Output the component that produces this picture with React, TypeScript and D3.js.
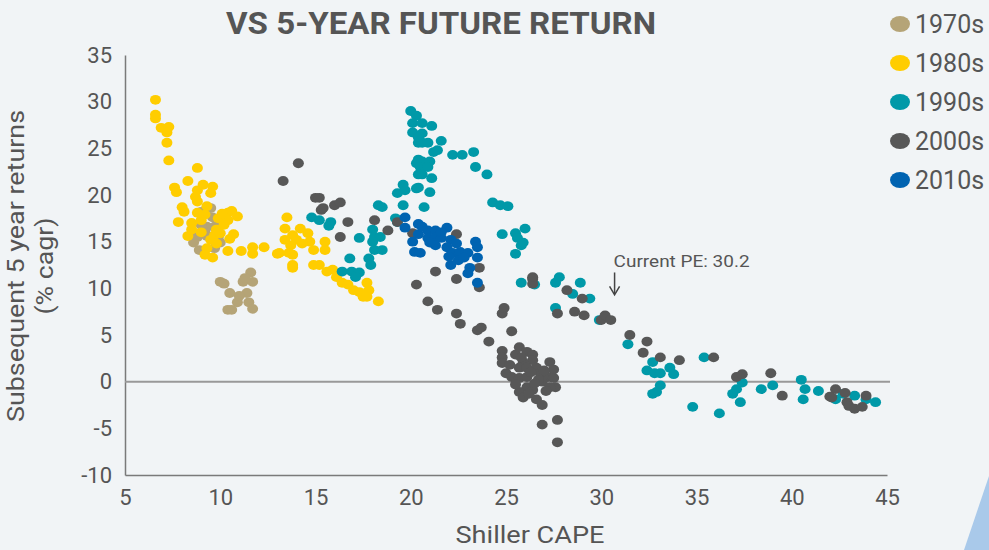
import * as d3 from 'd3';
import { useEffect, useRef } from 'react';

type Pt = [number, number];

// Shiller CAPE (x) vs subsequent 5 year return, % cagr (y)
const s1970: Pt[] = [
  [9.5, 18.6], [9.6, 17.6], [9.7, 16.6], [8.8, 15.5], [8.6, 14.9], [8.9, 14.1], [9.7, 14.3],
  [10.0, 14.9], [9.3, 16.6], [9.9, 16.6], [9.0, 18.2], [9.2, 16.0], [9.6, 15.2],
  [9.3, 15.6], [9.9, 15.5], [9.0, 16.8],
  [10.0, 10.7], [10.2, 10.5], [10.5, 9.5], [10.4, 7.7], [10.9, 8.5], [11.2, 10.7], [11.6, 11.7],
  [11.7, 10.7], [11.4, 9.5], [11.5, 8.5], [11.7, 7.8], [10.6, 7.7], [11.3, 11.1], [11.0, 9.2]
];

const s1980: Pt[] = [
  [6.6, 30.2], [6.6, 28.6], [6.6, 28.2], [6.9, 27.2], [7.3, 27.3], [7.2, 26.7], [7.2, 25.6],
  [7.3, 23.7], [8.8, 22.9], [8.3, 21.5], [7.6, 20.8], [7.7, 20.3], [9.1, 21.1], [9.6, 20.9],
  [9.5, 20.2], [8.8, 20.5], [8.7, 19.8], [8.8, 19.3], [9.3, 18.8], [8.0, 18.7], [8.1, 18.2],
  [8.8, 18.1], [9.2, 17.9], [7.8, 17.1], [8.5, 17.0], [9.9, 17.5], [10.4, 18.1], [10.6, 18.3],
  [10.9, 17.7], [10.4, 17.3], [8.3, 15.6], [9.0, 16.0], [9.7, 15.7], [10.0, 15.9], [9.5, 15.2],
  [10.7, 15.8], [10.5, 15.3], [9.8, 14.8], [9.3, 14.3], [9.2, 13.6], [9.6, 13.3], [10.4, 14.0],
  [11.1, 14.0], [11.7, 14.4], [11.7, 13.7], [12.3, 14.4], [13.0, 13.7],
  [9.8, 16.3], [10.2, 16.8], [8.5, 16.3], [9.0, 17.3], [10.1, 18.0],
  [13.5, 17.6], [13.4, 16.4], [14.2, 16.4], [13.8, 15.7], [14.6, 15.9], [13.4, 15.2], [14.0, 15.2],
  [14.7, 15.0], [15.5, 15.0], [13.7, 14.6], [14.3, 14.8], [14.9, 14.1], [15.5, 14.1], [13.1, 13.8],
  [13.6, 13.8], [13.8, 13.6], [13.8, 12.5], [13.8, 12.2], [14.9, 12.5], [15.2, 12.5], [15.6, 11.8],
  [15.9, 12.0], [16.1, 11.2], [16.4, 10.6], [16.7, 10.4], [17.0, 9.8], [17.3, 9.6], [17.7, 10.6],
  [17.8, 9.8], [17.5, 9.1], [17.7, 9.1], [18.3, 8.6]
];

const s1990: Pt[] = [
  [14.8, 17.6], [15.2, 17.3], [15.8, 17.1], [15.7, 16.7], [18.3, 18.9], [17.3, 15.4], [18.0, 16.3],
  [18.1, 15.5], [18.4, 15.5], [18.0, 15.0], [18.1, 14.1], [18.5, 14.1], [17.8, 13.2], [17.9, 12.5],
  [16.8, 13.2], [16.4, 11.8], [16.9, 11.8], [17.3, 11.7], [17.1, 11.2], [19.3, 17.1], [19.6, 21.1],
  [19.3, 20.2], [20.3, 20.7], [19.6, 18.9], [20.3, 23.4], [20.4, 22.2], [20.4, 25.6],
  [20.0, 29.0], [20.3, 28.5], [20.1, 27.7], [20.6, 27.7], [21.1, 27.4], [20.1, 26.7], [20.6, 26.6],
  [20.4, 26.2], [21.6, 25.8], [20.6, 25.6], [20.9, 25.6], [21.2, 24.6], [21.4, 24.8], [22.2, 24.3],
  [22.7, 24.3], [23.3, 24.6], [23.4, 23.0], [24.0, 22.2], [20.4, 23.8], [20.6, 23.6], [21.0, 23.6],
  [20.5, 23.0], [20.9, 23.0], [20.6, 22.2], [21.1, 21.8], [19.7, 20.5], [20.4, 20.8], [21.0, 20.3],
  [20.7, 18.7], [18.5, 18.7], [19.2, 17.5], [24.3, 19.2], [24.7, 18.9], [25.1, 18.8], [24.8, 15.8],
  [25.5, 15.9], [26.0, 16.4], [25.6, 15.4], [25.8, 14.6], [25.5, 13.7], [25.9, 14.9], [25.8, 10.6],
  [26.5, 10.4], [27.6, 10.6], [27.8, 11.2], [28.9, 10.6], [28.5, 9.4], [29.4, 8.9], [27.6, 7.9],
  [29.9, 6.6], [31.4, 4.0], [32.7, 2.1], [32.4, 1.2], [32.8, 0.9], [33.1, 0.9], [33.1, -0.4],
  [32.9, -1.1], [32.7, -1.3], [33.6, 1.5], [33.8, 0.8], [34.8, -2.7], [35.4, 2.6], [36.2, -3.4],
  [36.9, -1.3], [37.1, -0.8], [37.4, -0.1], [37.3, -2.2], [38.4, -0.8], [39.0, -0.4], [40.5, 0.2],
  [40.7, -0.8], [40.6, -1.9], [41.4, -1.0], [42.3, -1.9], [42.7, -1.3], [43.3, -1.5], [43.9, -1.9],
  [44.4, -2.2]
];

const s2000: Pt[] = [
  [14.1, 23.4], [13.3, 21.5], [15.0, 19.7], [15.2, 19.7], [15.3, 18.4], [15.4, 18.6], [16.0, 18.9],
  [16.3, 19.2], [16.7, 17.1], [16.3, 15.5], [18.1, 17.3], [18.8, 16.2], [19.3, 17.1], [20.3, 10.4],
  [20.1, 15.9], [22.4, 15.8], [21.3, 11.8], [23.6, 12.2], [20.9, 8.6], [21.4, 7.7], [22.4, 7.3],
  [26.4, 11.0], [22.4, 11.0], [23.6, 10.1], [22.6, 6.2], [23.5, 5.5], [23.7, 5.8], [24.1, 4.3],
  [24.8, 7.3], [24.9, 7.9], [25.3, 5.4], [24.8, 3.3], [24.8, 2.6], [24.8, 2.0], [25.5, 2.9],
  [25.7, 3.7], [26.1, 3.2], [26.4, 2.9], [26.4, 2.3], [25.9, 2.1], [25.7, 1.5], [26.1, 1.5],
  [26.6, 1.5], [27.3, 2.1], [27.5, 1.3], [25.0, 0.9], [25.3, 0.5], [25.7, 0.4], [26.1, 0.5],
  [26.8, 0.9], [27.2, 0.5], [27.5, 0.4], [26.9, 0.0], [27.6, -0.6], [26.1, -0.6], [25.7, -1.1],
  [26.4, -0.9], [25.9, -1.7], [26.6, -1.9], [26.9, -2.5], [26.9, -4.6], [27.7, -4.1], [27.7, -6.5],
  [25.2, 1.8], [25.5, -0.3], [26.3, 1.0], [26.7, 0.2], [27.0, 1.2], [25.8, 2.6], [26.2, -1.3],
  [27.3, -0.6], [26.5, -0.2], [27.1, -1.0],
  [26.4, 10.5], [28.2, 9.8], [29.0, 8.9], [28.6, 7.5], [29.1, 7.1], [27.7, 7.3], [26.4, 11.2],
  [30.0, 6.6], [30.2, 7.1], [30.5, 6.6], [31.5, 5.0], [32.4, 4.3], [32.2, 3.1], [33.1, 2.6],
  [34.1, 2.3], [35.9, 2.6], [37.1, 0.5], [37.4, 0.8], [38.9, 0.9], [39.5, -1.5], [42.0, -1.6],
  [42.3, -0.8], [42.8, -1.2], [42.9, -2.2], [43.0, -2.6], [43.3, -2.9], [43.7, -2.7], [43.9, -1.5],
  [42.1, -1.7]
];

const s2010: Pt[] = [
  [19.7, 17.6], [19.7, 16.5], [20.4, 16.9], [20.1, 15.0], [20.4, 15.8], [20.9, 16.2], [21.3, 16.2],
  [21.9, 16.5], [20.9, 15.4], [21.3, 15.5], [21.6, 15.4], [22.1, 15.2], [21.3, 14.6], [21.9, 14.4],
  [20.2, 13.9], [20.5, 13.8], [22.2, 13.8], [22.6, 13.9], [23.0, 13.8], [23.4, 15.0], [23.5, 14.4],
  [22.5, 13.0], [22.8, 13.3], [23.5, 13.3], [22.1, 12.5], [23.1, 12.2], [23.0, 11.6], [23.5, 10.6],
  [20.6, 16.6], [21.6, 16.0], [22.4, 14.8], [21.0, 14.9], [22.0, 13.4]
];

const decades = ['1970s', '1980s', '1990s', '2000s', '2010s'];
const seriesData = [s1970, s1980, s1990, s2000, s2010];
const colors = ['#b5a477', '#ffcd00', '#0099a8', '#575757', '#0063b1'];

const xTicks = [5, 10, 15, 20, 25, 30, 35, 40, 45];
const yTicks = [-10, -5, 0, 5, 10, 15, 20, 25, 30, 35];

const currentPE = 30.2;

const W = 989;
const H = 550;
const font = 'Roboto, "Noto Sans", sans-serif';
const textColor = '#555';

const App = () => {
  const ref = useRef<SVGSVGElement | null>(null);

  useEffect(() => {
    if (!ref.current) return;
    const svg = d3.select(ref.current);
    svg.selectAll('*').remove();

    const x = d3.scaleLinear().domain([5, 45]).range([125, 887]);
    const y = d3.scaleLinear().domain([-10, 35]).range([475, 55]);

    svg.append('rect').attr('width', W).attr('height', H).attr('fill', '#f1f4f6');

    // decorative corner shape
    svg.append('polygon')
      .attr('points', `${W},476 ${W},${H} 964,${H}`)
      .attr('fill', '#a9c9ea');

    // title
    svg.append('text')
      .attr('x', 441).attr('y', 34)
      .attr('text-anchor', 'middle')
      .attr('font-family', font)
      .attr('font-weight', 700)
      .attr('font-size', 32)
      .attr('textLength', 430)
      .attr('lengthAdjust', 'spacingAndGlyphs')
      .attr('fill', textColor)
      .text('VS 5-YEAR FUTURE RETURN');

    // axes
    const fmt = (d: d3.NumberValue) => String(d);
    const yAxis = svg.append('g')
      .attr('transform', `translate(${x(5)},0)`)
      .call(d3.axisLeft(y).tickValues(yTicks).tickFormat(fmt).tickSize(0).tickPadding(13));
    const xAxis = svg.append('g')
      .attr('transform', `translate(0,${y(-10)})`)
      .call(d3.axisBottom(x).tickValues(xTicks).tickFormat(fmt).tickSize(0).tickPadding(14));
    [yAxis, xAxis].forEach(a => {
      a.select('.domain').attr('stroke', '#7a7a7a').attr('stroke-width', 1.5);
      a.selectAll('text')
        .attr('font-family', font)
        .attr('font-size', 22)
        .attr('fill', textColor);
    });

    // zero line
    svg.append('line')
      .attr('x1', x(5)).attr('x2', x(45) + 3)
      .attr('y1', y(0)).attr('y2', y(0))
      .attr('stroke', '#999').attr('stroke-width', 2);

    // dots
    seriesData.forEach((pts, i) => {
      svg.append('g')
        .selectAll('ellipse')
        .data(pts)
        .enter()
        .append('ellipse')
        .attr('cx', d => x(d[0]))
        .attr('cy', d => y(d[1]))
        .attr('rx', 5.5)
        .attr('ry', 4.9)
        .attr('fill', colors[i]);
    });

    // current PE annotation
    const ax = x(currentPE + 0.5);
    svg.append('text')
      .attr('x', ax - 1).attr('y', y(12.3))
      .attr('font-family', font)
      .attr('font-size', 17)
      .attr('textLength', 136)
      .attr('lengthAdjust', 'spacingAndGlyphs')
      .attr('fill', textColor)
      .text(`Current PE: ${currentPE}`);
    svg.append('line')
      .attr('x1', ax).attr('x2', ax)
      .attr('y1', y(11.7)).attr('y2', y(9.4))
      .attr('stroke', '#444').attr('stroke-width', 1.5);
    svg.append('path')
      .attr('d', `M${ax - 5},${y(10.2)} L${ax},${y(9.3)} L${ax + 5},${y(10.2)}`)
      .attr('fill', 'none')
      .attr('stroke', '#444').attr('stroke-width', 1.5);

    // axis titles
    svg.append('text')
      .attr('x', 530).attr('y', 543)
      .attr('text-anchor', 'middle')
      .attr('font-family', font)
      .attr('font-size', 24)
      .attr('textLength', 149)
      .attr('lengthAdjust', 'spacingAndGlyphs')
      .attr('fill', textColor)
      .text('Shiller CAPE');

    const yt = svg.append('g').attr('transform', 'translate(0,266) rotate(-90)');
    yt.append('text')
      .attr('x', 0).attr('y', 24)
      .attr('text-anchor', 'middle')
      .attr('font-family', font)
      .attr('font-size', 24)
      .attr('textLength', 312)
      .attr('lengthAdjust', 'spacingAndGlyphs')
      .attr('fill', textColor)
      .text('Subsequent 5 year returns');
    yt.append('text')
      .attr('x', 0).attr('y', 53)
      .attr('text-anchor', 'middle')
      .attr('font-family', font)
      .attr('font-size', 24)
      .attr('textLength', 97)
      .attr('lengthAdjust', 'spacingAndGlyphs')
      .attr('fill', textColor)
      .text('(% cagr)');

    // legend
    const lg = svg.append('g')
      .selectAll('g')
      .data(decades)
      .enter()
      .append('g')
      .attr('transform', (_, i) => `translate(900,${24 + i * 39})`);
    lg.append('ellipse').attr('rx', 10).attr('ry', 8).attr('fill', (_, i) => colors[i]);
    lg.append('text')
      .attr('x', 15).attr('y', 9)
      .attr('font-family', font)
      .attr('font-size', 25)
      .attr('fill', textColor)
      .text(d => d);
  }, []);

  return (
    <div style={{ position: 'absolute', left: 0, top: 0 }}>
      <svg ref={ref} width={W} height={H} style={{ display: 'block' }} />
    </div>
  );
};

export default App;
